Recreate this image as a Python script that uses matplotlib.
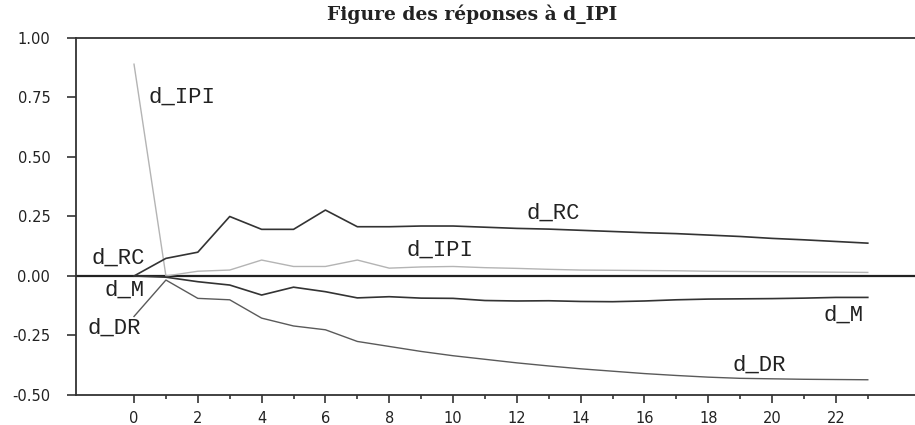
import numpy as np
import matplotlib
matplotlib.use("Agg")
import matplotlib.pyplot as plt
from matplotlib.ticker import FixedLocator, FormatStrFormatter

# impulse responses to a d_IPI shock, periods 0..23
periods = np.arange(24)
d_ipi = [0.89, 0.0, 0.02, 0.025, 0.067, 0.04, 0.04, 0.067, 0.033, 0.038, 0.04, 0.035,
         0.032, 0.028, 0.025, 0.024, 0.023, 0.022, 0.02, 0.019, 0.018, 0.017, 0.016, 0.015]
d_rc = [0.0, 0.074, 0.10, 0.25, 0.196, 0.196, 0.277, 0.207, 0.207, 0.21, 0.21, 0.205,
        0.20, 0.197, 0.192, 0.187, 0.182, 0.178, 0.172, 0.166, 0.158, 0.152, 0.145, 0.138]
d_m = [0.0, -0.005, -0.024, -0.038, -0.08, -0.047, -0.066, -0.092, -0.087, -0.093, -0.094,
       -0.103, -0.105, -0.104, -0.107, -0.108, -0.105, -0.1, -0.097, -0.096, -0.095,
       -0.093, -0.09, -0.09]
d_dr = [-0.17, -0.017, -0.094, -0.1, -0.177, -0.21, -0.226, -0.275, -0.296, -0.317,
        -0.335, -0.35, -0.365, -0.378, -0.39, -0.40, -0.41, -0.418, -0.425, -0.43,
        -0.432, -0.434, -0.435, -0.436]

# series label positions (left x, centre y) in data units
labels = [("d_IPI", 0.45, 0.75), ("d_RC", 12.3, 0.265), ("d_IPI", 8.55, 0.108),
          ("d_RC", -1.32, 0.075), ("d_M", -0.92, -0.06), ("d_DR", -1.45, -0.218),
          ("d_M", 21.6, -0.163), ("d_DR", 18.75, -0.375)]

fig = plt.figure(figsize=(9.15, 4.25), dpi=100)
ax = fig.add_axes([0.083, 0.0706, 0.917, 0.84])

ax.axhline(0, color="#222222", lw=1.6, zorder=1)
ax.plot(periods, d_ipi, color="#b4b4b4", lw=1.0, zorder=2)
ax.plot(periods, d_dr, color="#5a5a5a", lw=1.0, zorder=3)
ax.plot(periods, d_m, color="#333333", lw=1.2, zorder=3)
ax.plot(periods, d_rc, color="#333333", lw=1.2, zorder=3)

for txt, x, y in labels:
    ax.text(x, y, txt, family="Liberation Mono", fontsize=16, color="#222222",
            ha="left", va="center")

ax.set_xlim(-1.82, 24.48)
ax.set_ylim(-0.5, 1.0)
ax.set_xticks(np.arange(0, 23, 2))
ax.xaxis.set_minor_locator(FixedLocator(np.arange(1, 24, 2)))
ax.set_yticks([-0.5, -0.25, 0.0, 0.25, 0.5, 0.75, 1.0])
ax.yaxis.set_major_formatter(FormatStrFormatter("%.2f"))

for sp in ("left", "bottom", "top"):
    ax.spines[sp].set_color("#333333")
    ax.spines[sp].set_linewidth(1.3)
ax.spines["right"].set_visible(False)

ax.tick_params(axis="y", direction="out", length=6.5, width=1.2, color="#333333",
               pad=12, labelsize=10.5, labelcolor="#222222")
ax.tick_params(axis="x", which="major", direction="out", length=5.5, width=1.2,
               color="#333333", pad=6, labelsize=10.5, labelcolor="#222222")
ax.tick_params(axis="x", which="minor", direction="out", length=3, width=1.2,
               color="#333333")

fig.text(0.516, 0.966, "Figure des réponses à d_IPI", family="DejaVu Serif",
         weight="bold", fontsize=13.5, ha="center", va="center", color="#222222")

fig.savefig("out.png", dpi=100, facecolor="white")
